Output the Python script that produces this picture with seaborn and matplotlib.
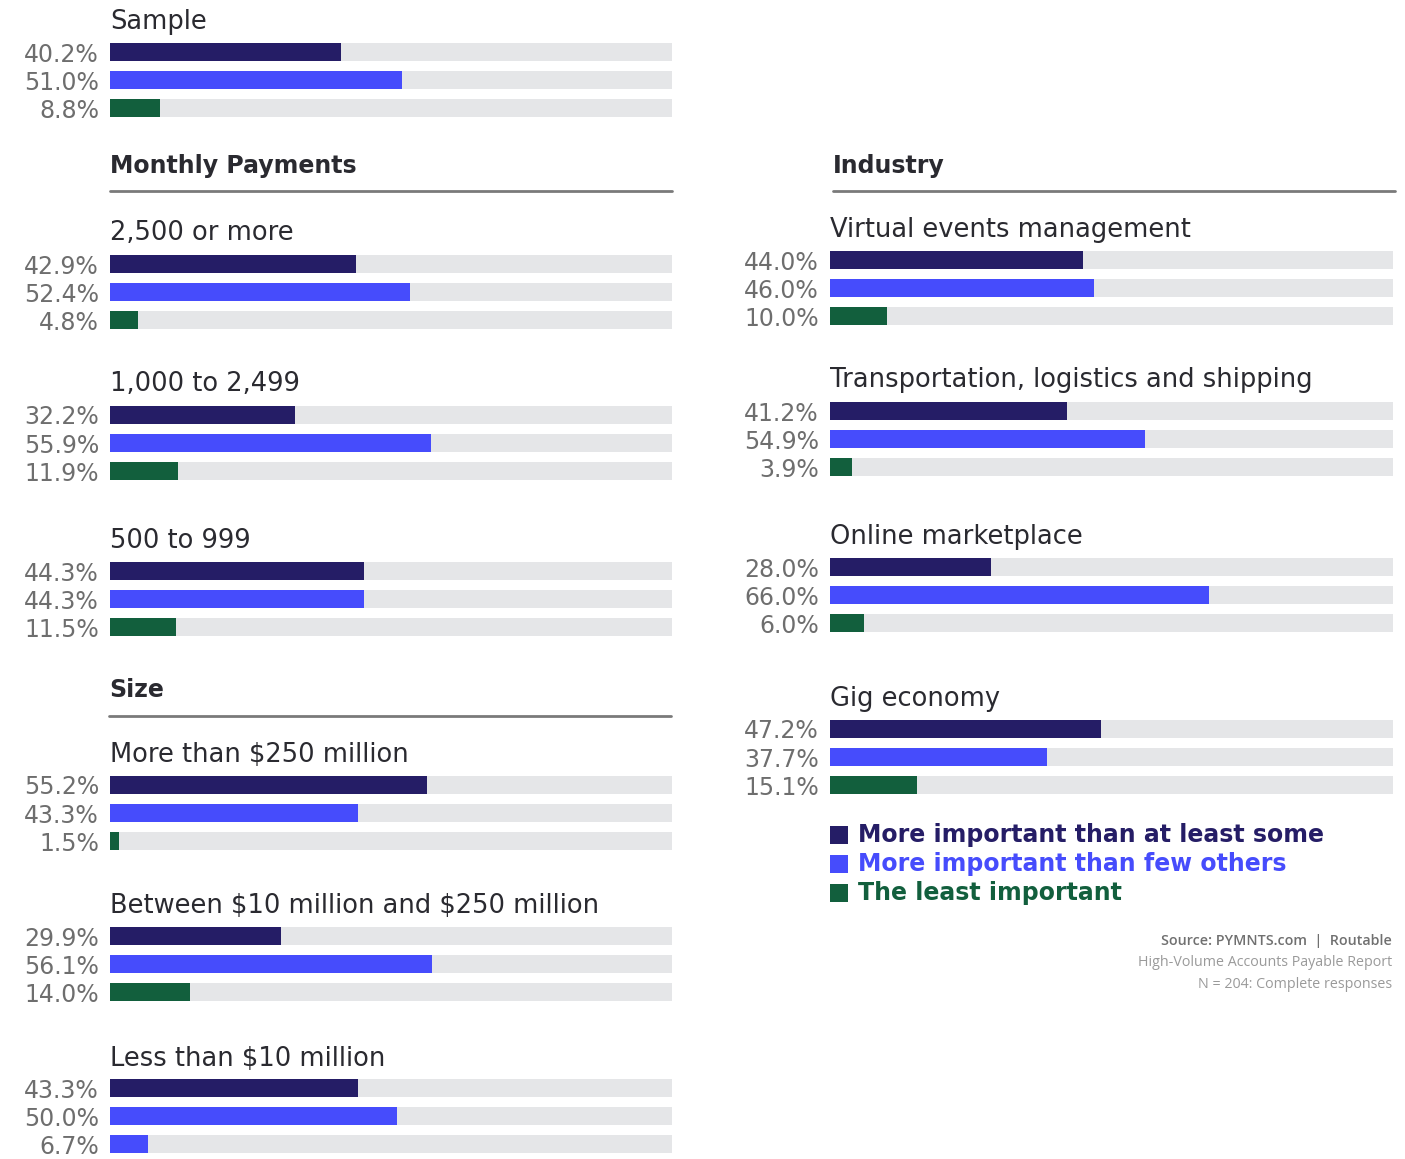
import matplotlib
matplotlib.use("Agg")
import matplotlib.pyplot as plt
from matplotlib.lines import Line2D
from matplotlib.patches import Rectangle
import seaborn as sns
import pandas as pd

# ---------------- data ----------------
groups = ["Sample", "2,500 or more", "1,000 to 2,499", "500 to 999",
          "More than $250 million", "Between $10 million and $250 million",
          "Less than $10 million", "Virtual events management",
          "Transportation, logistics and shipping", "Online marketplace",
          "Gig economy"]
more_some = [40.2, 42.9, 32.2, 44.3, 55.2, 29.9, 43.3, 44.0, 41.2, 28.0, 47.2]
more_few = [51.0, 52.4, 55.9, 44.3, 43.3, 56.1, 50.0, 46.0, 54.9, 66.0, 37.7]
least = [8.8, 4.8, 11.9, 11.5, 1.5, 14.0, 6.7, 10.0, 3.9, 6.0, 15.1]
series_names = ["More important than at least some",
                "More important than few others",
                "The least important"]
section_headers = ["Monthly Payments", "Size", "Industry"]
source_lines = ["Source: PYMNTS.com  |  Routable",
                "High-Volume Accounts Payable Report",
                "N = 204: Complete responses"]

# ---------------- style ----------------
NAVY = "#251d66"
BLUE = "#464cfc"
GREEN = "#125f3d"
TRACK = "#e5e6e8"
TITLE_C = "#2a2a30"
VAL_C = "#6e6e6e"
XMAX = 98

W, H = 1405, 1159
sns.set_theme(style="white")
plt.rcParams['font.family'] = ['DejaVu Sans']

# layout (pixels)
col = [0] * 7 + [1] * 4
col_x = [(110, 672), (830, 1393)]
title_y = [22, 233, 384, 541, 755, 906, 1059, 230, 380, 537, 699]
bar_y0 = [52, 264, 415, 571, 785, 936, 1088, 260, 411, 567, 729]
PITCH = 28.2
BAR_H = 18

fig = plt.figure(figsize=(W / 100, H / 100), dpi=100)
fig.patch.set_facecolor("white")


def fx(x):
    return x / W


def fy(y):
    return 1 - y / H


for i, g in enumerate(groups):
    x0, x1 = col_x[col[i]]
    top = bar_y0[i] - PITCH / 2
    ax = fig.add_axes([fx(x0), fy(top + 3 * PITCH), (x1 - x0) / W, 3 * PITCH / H])
    ax.set_facecolor("none")
    vals = [more_some[i], more_few[i], least[i]]
    df = pd.DataFrame({"series": series_names, "value": vals,
                       "track": [XMAX] * 3})
    pal = {series_names[0]: NAVY, series_names[1]: BLUE,
           series_names[2]: BLUE if g == "Less than $10 million" else GREEN}
    sns.barplot(data=df, x="track", y="series", color=TRACK, saturation=1,
                width=BAR_H / PITCH, linewidth=0, orient="h", ax=ax)
    sns.barplot(data=df, x="value", y="series", hue="series", palette=pal,
                saturation=1, width=BAR_H / PITCH, linewidth=0, orient="h",
                legend=False, ax=ax)
    ax.set_xlim(0, XMAX)
    ax.set_ylim(2.5, -0.5)
    ax.set_xticks([])
    ax.set_xlabel("")
    ax.set_ylabel("")
    for s in ax.spines.values():
        s.set_visible(False)
    ax.set_yticks([0, 1, 2])
    ax.set_yticklabels([f"{v:.1f}%" for v in vals], fontfamily="DejaVu Sans",
                       fontsize=17, color=VAL_C)
    ax.tick_params(axis="y", length=0, pad=8)
    fig.text(fx(x0), fy(title_y[i]), g, fontsize=18.5, color=TITLE_C,
             va="center", ha="left", parse_math=False)

# section headers
headers_pos = [(110, 672, 166, 191), (109, 671, 690, 716), (833, 1395, 166, 191)]
for name, (hx0, hx1, ty, ly) in zip(section_headers, headers_pos):
    fig.text(fx(hx0), fy(ty), name, fontsize=17, fontweight="bold",
             color=TITLE_C, va="center", ha="left")
    fig.add_artist(Line2D([fx(hx0), fx(hx1)], [fy(ly), fy(ly)],
                          color="#7a7a7a", lw=2))

# legend
for name, c, yy in zip(series_names, [NAVY, BLUE, GREEN], [835, 864, 893]):
    fig.add_artist(Rectangle((fx(830), fy(yy + 9)), 18 / W, 18 / H,
                             transform=fig.transFigure, color=c, lw=0))
    fig.text(fx(858), fy(yy), name, fontsize=17, fontweight="bold", color=c,
             va="center", ha="left")

# source
for txt, yy, wt, c in zip(source_lines, [941, 962, 984],
                          ["semibold", "normal", "normal"],
                          ["#707070", "#9a9a9a", "#9a9a9a"]):
    fig.text(fx(1392), fy(yy), txt, fontsize=10.3, fontweight=wt, color=c,
             va="center", ha="right", family="Open Sans")

fig.savefig("out.png", dpi=100)
